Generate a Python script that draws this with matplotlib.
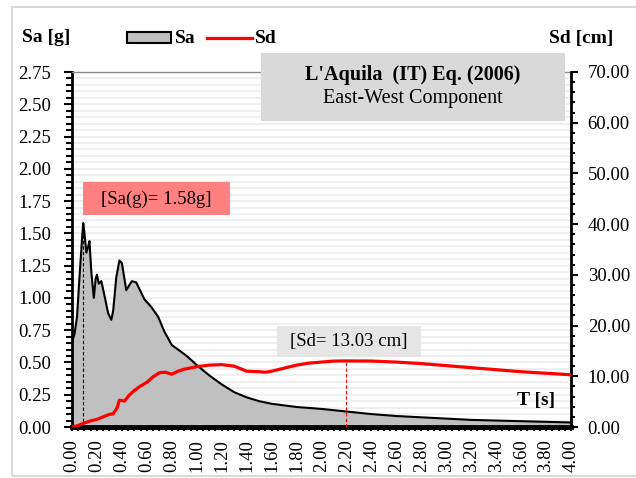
import matplotlib
matplotlib.use("Agg")
import matplotlib.pyplot as plt
from matplotlib.patches import Rectangle
from matplotlib.lines import Line2D
import numpy as np

plt.rcParams['font.family'] = ['Liberation Serif', 'DejaVu Serif']

# ---- data ----
T_sa = [0, 0.02, 0.04, 0.06, 0.08, 0.09, 0.10, 0.115, 0.13, 0.14, 0.155, 0.175, 0.19, 0.20,
        0.215, 0.235, 0.26, 0.29, 0.315, 0.33, 0.355, 0.38, 0.40, 0.435, 0.46, 0.48, 0.515,
        0.55, 0.58, 0.635, 0.69, 0.74, 0.80, 0.85, 0.92, 1.0, 1.1, 1.2, 1.3, 1.4, 1.5, 1.6,
        1.8, 2.0, 2.2, 2.4, 2.6, 2.8, 3.0, 3.2, 3.4, 3.6, 3.8, 4.0]
Sa = [0.66, 0.72, 0.85, 1.16, 1.45, 1.58, 1.50, 1.35, 1.40, 1.44, 1.20, 1.00, 1.15, 1.18,
      1.11, 1.13, 1.02, 0.88, 0.83, 0.90, 1.16, 1.29, 1.27, 1.06, 1.10, 1.13, 1.12,
      1.05, 0.99, 0.93, 0.855, 0.74, 0.635, 0.60, 0.55, 0.48, 0.40, 0.33, 0.27, 0.23, 0.20, 0.18,
      0.155, 0.14, 0.12, 0.10, 0.085, 0.075, 0.065, 0.055, 0.05, 0.045, 0.04, 0.035]

T_sd = [0, 0.05, 0.1, 0.15, 0.2, 0.25, 0.3, 0.33, 0.36, 0.38, 0.42, 0.46, 0.5, 0.55, 0.6,
        0.65, 0.7, 0.75, 0.8, 0.85, 0.9, 1.0, 1.1, 1.2, 1.3, 1.4, 1.5, 1.55, 1.6, 1.7, 1.8,
        1.9, 2.0, 2.1, 2.2, 2.4, 2.6, 2.8, 3.0, 3.2, 3.4, 3.6, 3.8, 4.0]
Sd = [0.0, 0.3, 0.8, 1.2, 1.5, 2.0, 2.5, 2.6, 3.7, 5.3, 5.1, 6.3, 7.2, 8.1, 8.8,
      9.9, 10.7, 10.8, 10.4, 11.0, 11.4, 11.9, 12.2, 12.3, 12.0, 11.0, 10.9, 10.8, 11.0, 11.6, 12.2,
      12.6, 12.8, 13.0, 13.03, 13.0, 12.8, 12.5, 12.1, 11.7, 11.3, 10.9, 10.6, 10.3]

peak_T_sa, peak_sa = 0.09, 1.58
peak_T_sd, peak_sd = 2.2, 13.03

x_ticks = np.round(np.arange(0, 4.0001, 0.2), 2)
sa_ticks = np.round(np.arange(0, 2.7501, 0.25), 2)
sd_ticks = np.arange(0, 70.01, 10)

FS = 13.5

W, H = 636, 478
fig = plt.figure(figsize=(W / 100, H / 100), dpi=100)

def fx(px):
    return px / W

def fy(py):
    return 1 - py / H

ax = fig.add_axes([fx(72), fy(427), (571 - 72) / W, (427 - 72) / H])
ax.set_xlim(0, 4)
ax.set_ylim(0, 2.75)

# gridlines every 0.05
for g in np.arange(0.05, 2.75, 0.05):
    ax.axhline(g, color='#ebebeb', lw=1.1, zorder=0)

ax.fill_between(T_sa, Sa, 0, color='#c0c0c0', zorder=1, lw=0)
ax.plot(T_sa, Sa, color='black', lw=1.5, zorder=2)
ax.plot([peak_T_sa, peak_T_sa], [0, peak_sa], color='black', lw=0.8, ls=(0, (3, 2)), zorder=3)

ax.set_xticks(x_ticks)
ax.set_xticklabels([f"{v:.2f}" for v in x_ticks], rotation=90)
ax.set_xticks(np.arange(0, 4.0001, 0.05), minor=True)
ax.set_yticks(sa_ticks)
ax.set_yticklabels([f"{v:.2f}" for v in sa_ticks])
ax.set_yticks(np.arange(0, 2.7501, 0.05), minor=True)
ax.tick_params(axis='y', which='major', direction='out', length=6, width=1.5, labelsize=FS, pad=9)
ax.tick_params(axis='y', which='minor', direction='out', length=4, width=1.5)
ax.tick_params(axis='x', which='major', direction='out', length=3, width=1.5, labelsize=FS, pad=6)
ax.tick_params(axis='x', which='minor', direction='out', length=3, width=1.5)
ax.spines['left'].set_linewidth(2)
ax.spines['bottom'].set_linewidth(3.5)
ax.spines['top'].set_color('#8a8a8a')
ax.spines['top'].set_linewidth(1)
ax.spines['right'].set_visible(False)

ax2 = ax.twinx()
ax2.set_ylim(0, 70)
ax2.plot(T_sd, Sd, color='#ff0000', lw=2.3, zorder=3, solid_joinstyle='round')
ax2.plot([peak_T_sd, peak_T_sd], [0, peak_sd], color='#ff0000', lw=0.8, ls=(0, (3, 2)), zorder=3)
ax2.set_yticks(sd_ticks)
ax2.set_yticklabels([f"{v:.2f}" for v in sd_ticks])
ax2.set_yticks(np.arange(0, 70.01, 2), minor=True)
ax2.tick_params(axis='y', which='major', direction='out', length=5, width=1.5, labelsize=FS, pad=7)
ax2.tick_params(axis='y', which='minor', direction='out', length=3, width=1.5)
ax2.spines['right'].set_linewidth(2)
for s in ['left', 'top', 'bottom']:
    ax2.spines[s].set_visible(False)

# figure border
fig.patches.append(Rectangle((fx(12), fy(476)), fx(W + 10) - fx(12), fy(7) - fy(476),
                             transform=fig.transFigure, fill=False, ec='#d9d9d9', lw=1.5, zorder=0))

# axis titles
fig.text(fx(46), fy(38), 'Sa [g]', ha='center', va='center', fontsize=14, fontweight='bold')
fig.text(fx(581), fy(38), 'Sd [cm]', ha='center', va='center', fontsize=14, fontweight='bold')
fig.text(fx(536), fy(400), 'T [s]', ha='center', va='center', fontsize=14, fontweight='bold', zorder=5)

# legend
fig.patches.append(Rectangle((fx(127), fy(43)), fx(171) - fx(127), fy(32) - fy(43),
                             transform=fig.transFigure, fc='#c0c0c0', ec='black', lw=1.5, zorder=5))
fig.text(fx(175), fy(38.5), 'Sa', ha='left', va='center', fontsize=14, fontweight='bold')
fig.lines.append(Line2D([fx(207), fx(252)], [fy(38), fy(38)], transform=fig.transFigure,
                        color='#ff0000', lw=2.3, zorder=5))
fig.text(fx(255), fy(38.5), 'Sd', ha='left', va='center', fontsize=14, fontweight='bold')

# title box
fig.patches.append(Rectangle((fx(261), fy(121)), fx(565) - fx(261), fy(53) - fy(121),
                             transform=fig.transFigure, fc='#d9d9d9', ec='none', zorder=5))
fig.text(fx(413), fy(75), "L'Aquila  (IT) Eq. (2006)", ha='center', va='center',
         fontsize=14.5, fontweight='bold', zorder=6)
fig.text(fx(413), fy(99), 'East-West Component', ha='center', va='center',
         fontsize=14.5, zorder=6)

# annotation boxes
fig.patches.append(Rectangle((fx(83), fy(215)), fx(230) - fx(83), fy(182) - fy(215),
                             transform=fig.transFigure, fc='#ff8080', ec='none', zorder=5))
fig.text(fx(156.5), fy(199), f'[Sa(g)= {peak_sa:.2f}g]', ha='center', va='center',
         fontsize=FS, zorder=6)
fig.patches.append(Rectangle((fx(277), fy(357)), fx(421) - fx(277), fy(326) - fy(357),
                             transform=fig.transFigure, fc='#e6e6e6', ec='none', zorder=5))
fig.text(fx(349), fy(341.5), f'[Sd= {peak_sd:.2f} cm]', ha='center', va='center',
         fontsize=FS, zorder=6)

fig.savefig('out.png', dpi=100)
